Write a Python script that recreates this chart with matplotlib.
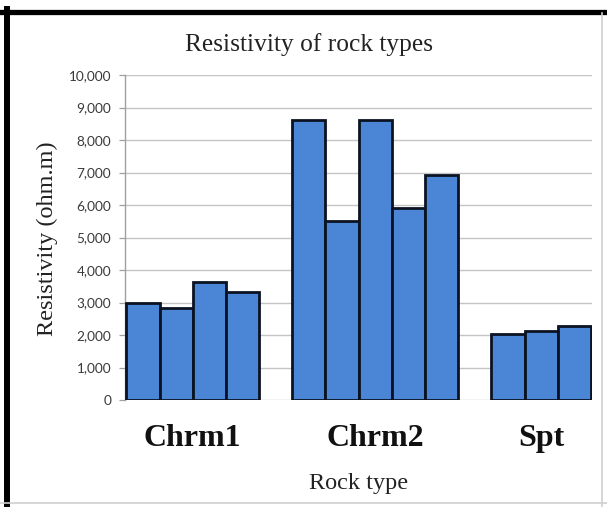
import matplotlib.pyplot as plt
from matplotlib.lines import Line2D
import numpy as np

# data
groups = ['Chrm1', 'Chrm2', 'Spt']
chrm1 = [2980, 2840, 3640, 3330]
chrm2 = [8630, 5520, 8630, 5900, 6920]
spt = [2020, 2130, 2270]
yticks = np.arange(0, 10001, 1000)

W, H = 607, 507
fig = plt.figure(figsize=(W / 100, H / 100), dpi=100)
ax = fig.add_axes([125 / W, 1 - 400 / H, (592 - 125) / W, (400 - 75) / H])

bar_color = '#4a85d6'
x0 = 0
centers = []
for vals in [chrm1, chrm2, spt]:
    xs = x0 + np.arange(len(vals)) + 0.5
    ax.bar(xs, vals, width=1.0, color=bar_color, edgecolor='#0b1322',
           linewidth=2.0, zorder=3)
    centers.append(x0 + len(vals) / 2)
    x0 += len(vals) + 1

ax.set_xlim(-0.04, 14.03)
ax.set_ylim(0, 10000)
ax.set_yticks(yticks)
ax.set_yticklabels([f'{v:,}' for v in yticks], fontfamily='Lato',
                   fontsize=9.8, color='#3a3a3a')
ax.yaxis.grid(True, color='#c4c4c4', linewidth=1.0, zorder=0)
ax.tick_params(axis='y', length=4, width=0.9, color='#a0a0a0', pad=6)

ax.set_xticks(centers)
ax.set_xticklabels(groups, fontfamily='Liberation Serif', fontweight='bold',
                   fontsize=23, color='#111111')
ax.tick_params(axis='x', length=0, pad=17)
ax.set_xlabel('Rock type', fontfamily='Liberation Serif', fontsize=17.5,
              color='#222222', labelpad=15)

for s in ['top', 'right', 'bottom']:
    ax.spines[s].set_visible(False)
ax.spines['left'].set_color('#a0a0a0')
ax.spines['left'].set_linewidth(1.0)

fig.text(309 / W, 1 - 45 / H, 'Resistivity of rock types',
         fontfamily='Liberation Serif', fontsize=18.3, color='#222222',
         ha='center', va='center')
fig.text(47 / W, 1 - 238.5 / H, 'Resistivity (ohm.m)',
         fontfamily='Liberation Serif', fontsize=17.5, color='#222222',
         rotation=90, ha='center', va='center')

# frame around the picture (screenshot border)
fig.add_artist(Line2D([0, 1], [1 - 11.5 / H] * 2, color='black', linewidth=3.8))
fig.add_artist(Line2D([6.5 / W] * 2, [0, 1 - 9 / H], color='black', linewidth=4.3))
fig.add_artist(Line2D([602 / W] * 2, [0, 1 - 13 / H], color='#d0d0d0', linewidth=1.2))
fig.add_artist(Line2D([0, 1], [1 - 503 / H] * 2, color='#d0d0d0', linewidth=1.2))

fig.savefig('out.png', dpi=100)
